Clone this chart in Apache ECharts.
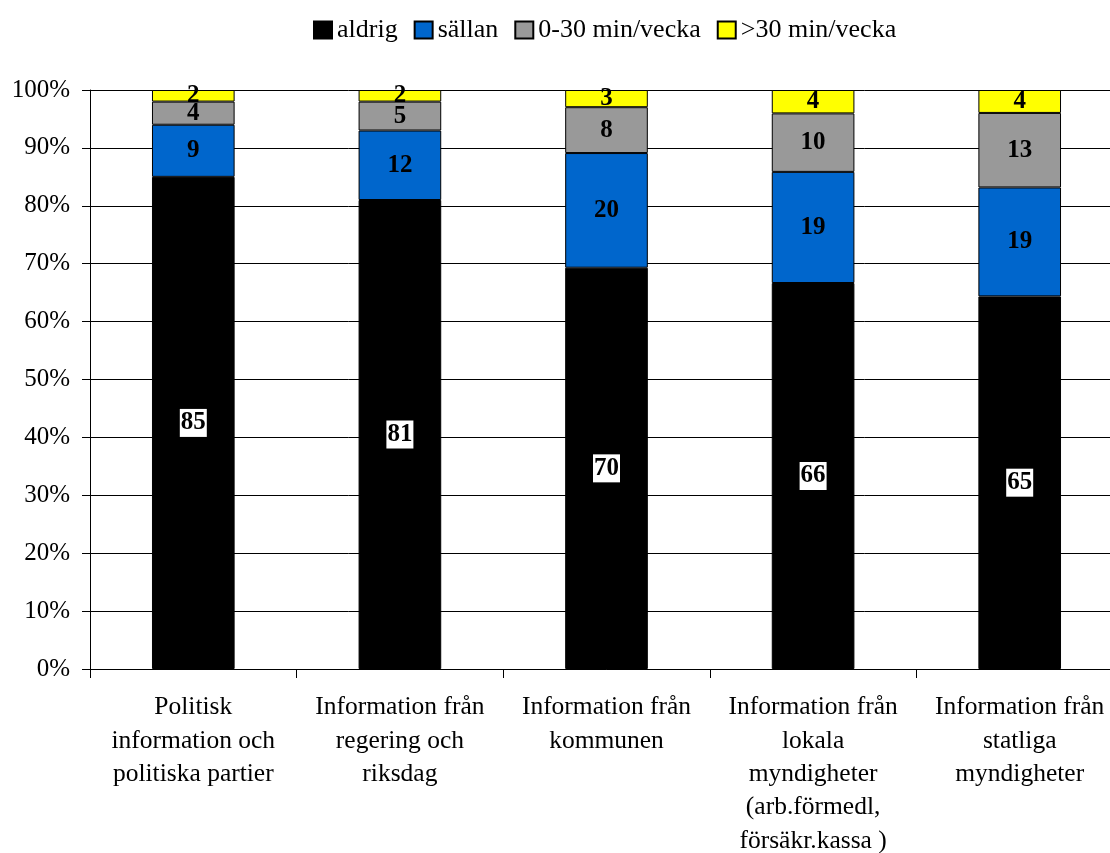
<!DOCTYPE html>
<html><head><meta charset="utf-8">
<script src="https://cdn.jsdelivr.net/npm/echarts@6/dist/echarts.min.js"></script>
<style>html,body{margin:0;padding:0;background:#fff;overflow:hidden}#c{width:1123px;height:853px}</style>
</head><body><div id="c"></div>
<script>
const categories = ['Politisk\ninformation och\npolitiska partier','Information från\nregering och\nriksdag','Information från\nkommunen','Information från\nlokala\nmyndigheter\n(arb.förmedl,\nförsäkr.kassa )','Information från\nstatliga\nmyndigheter'];
const seriesNames = ['aldrig','sällan','0-30 min/vecka','>30 min/vecka'];
const aldrig = [85,81,70,66,65];
const sallan = [9,12,20,19,19];
const min030 = [4,5,8,10,13];
const over30 = [2,2,3,4,4];
const yTicks = [0,10,20,30,40,50,60,70,80,90,100];
const colors = ['#000000','#0066CC','#999999','#FFFF00'];

const raw = [aldrig, sallan, min030, over30];
const totals = categories.map((_, i) => raw.reduce((s, a) => s + a[i], 0));
const font = 'Liberation Serif';
const series = raw.map((arr, k) => ({
  name: seriesNames[k], type: 'bar', stack: 'all', barWidth: '40%',
  data: arr.map((v, i) => ({value: v / totals[i] * 100, raw: v})),
  itemStyle: {color: colors[k], borderColor: '#000', borderWidth: 1},
  label: {show: true, position: 'inside', fontFamily: font, fontWeight: 'bold', fontSize: 25, color: '#000',
    formatter: p => p.data.raw,
    backgroundColor: k === 0 ? '#fff' : 'transparent', padding: k === 0 ? [3,1,0,1] : 0}
}));
const chart = echarts.init(document.getElementById('c'));
chart.setOption({
  animation: false,
  textStyle: {fontFamily: font},
  legend: {top: 12, left: 308, itemWidth: 18, itemHeight: 17, itemGap: 16, icon: 'rect',
    textStyle: {fontFamily: font, fontSize: 26, color: '#000'}},
  grid: {left: 90, right: 0, top: 90, bottom: 184, containLabel: false, outerBoundsMode: 'none'},
  xAxis: {type: 'category', data: categories,
    axisLine: {lineStyle: {color: '#000', width: 1}},
    axisTick: {show: true, length: 9, alignWithLabel: false, lineStyle: {color: '#000'}},
    axisLabel: {fontFamily: font, fontSize: 25.5, color: '#000', lineHeight: 33.3, margin: 22, interval: 0}},
  yAxis: {type: 'value', min: yTicks[0], max: yTicks[yTicks.length-1], interval: 10,
    axisLine: {show: true, lineStyle: {color: '#000'}},
    axisTick: {show: true, length: 8, lineStyle: {color: '#000'}},
    splitLine: {lineStyle: {color: '#000', width: 1}},
    axisLabel: {fontFamily: font, fontSize: 25, color: '#000', margin: 20, formatter: '{value}%'}},
  series
});
</script></body></html>
